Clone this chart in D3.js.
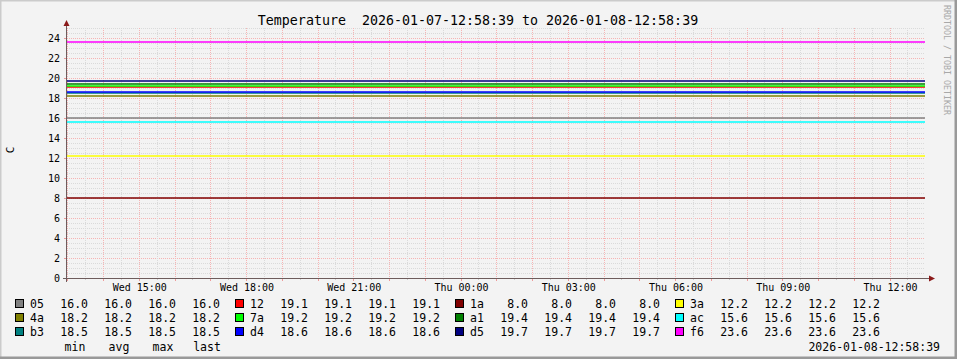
<!DOCTYPE html>
<html>
<head>
<meta charset="utf-8">
<script src="https://cdn.jsdelivr.net/npm/d3@7"></script>
<style>
  body { margin: 0; background: #f3f3f3; }
  svg { display: block; }
  text { font-family: "DejaVu Sans Mono", monospace; fill: #000; white-space: pre; }
</style>
</head>
<body>
<script>
const WIDTH = 957, HEIGHT = 359;

// chart data
const title = 'Temperature  2026-01-07-12:58:39 to 2026-01-08-12:58:39';
const timeStart = '2026-01-07T12:58:39Z';
const timeEnd = '2026-01-08T12:58:39Z';
const sensors = ['05', '12', '1a', '3a', '4a', '7a', 'a1', 'ac', 'b3', 'd4', 'd5', 'f6'];
const sensorColors = ['#808080', '#ff0000', '#800000', '#ffff00', '#808000', '#00ff00',
                      '#008000', '#00ffff', '#008080', '#0000ff', '#000080', '#ff00ff'];
const minValues  = [16.0, 19.1, 8.0, 12.2, 18.2, 19.2, 19.4, 15.6, 18.5, 18.6, 19.7, 23.6];
const avgValues  = [16.0, 19.1, 8.0, 12.2, 18.2, 19.2, 19.4, 15.6, 18.5, 18.6, 19.7, 23.6];
const maxValues  = [16.0, 19.1, 8.0, 12.2, 18.2, 19.2, 19.4, 15.6, 18.5, 18.6, 19.7, 23.6];
const lastValues = [16.0, 19.1, 8.0, 12.2, 18.2, 19.2, 19.4, 15.6, 18.5, 18.6, 19.7, 23.6];
const statLabels = ['min', 'avg', 'max', 'last'];
const yTicks = [0, 2, 4, 6, 8, 10, 12, 14, 16, 18, 20, 22, 24];
const xTickLabels = ['Wed 15:00', 'Wed 18:00', 'Wed 21:00', 'Thu 00:00',
                     'Thu 03:00', 'Thu 06:00', 'Thu 09:00', 'Thu 12:00'];
const yLabel = 'C';
const stamp = '2026-01-08-12:58:39';
const watermark = 'RRDTOOL / TOBI OETIKER';

const plotLeft = 67, plotRight = 925, plotTop = 28, plotBottom = 278;

const svg = d3.select('body')
              .append('svg')
                .attr('width', WIDTH)
                .attr('height', HEIGHT);

svg.append('rect').attr('width', WIDTH).attr('height', HEIGHT).attr('fill', '#f3f3f3');
// shaded frame
svg.append('path').attr('d', `M0,${HEIGHT} V0 H${WIDTH}`).attr('fill', 'none')
   .attr('stroke', '#cbcbcb').attr('stroke-width', 3);
svg.append('path').attr('d', `M0,${HEIGHT - 1} H${WIDTH - 1} V0`).attr('fill', 'none')
   .attr('stroke', '#999999').attr('stroke-width', 3);

const x = d3.scaleUtc()
            .domain([new Date(timeStart), new Date(timeEnd)])
            .range([plotLeft, plotRight]);
const y = d3.scaleLinear()
            .domain([0, 25])
            .range([plotBottom, plotTop]);

const grid = svg.append('g').attr('shape-rendering', 'crispEdges');
const MINOR = '#dadada', MAJOR = '#f6b4b4';

// horizontal grid: minor every 0.5, major every 2
d3.range(0.5, 25.01, 0.5).forEach(v => {
    const major = v % 2 === 0;
    grid.append('line')
        .attr('x1', plotLeft).attr('x2', plotRight)
        .attr('y1', y(v)).attr('y2', y(v))
        .attr('stroke', major ? MAJOR : MINOR)
        .attr('stroke-dasharray', '1,1');
});

// vertical grid: minor every 30 min, major every hour
const halfHours = d3.utcMinute.every(30).range(x.domain()[0], x.domain()[1]);
halfHours.forEach(t => {
    const major = t.getUTCMinutes() === 0;
    grid.append('line')
        .attr('x1', x(t)).attr('x2', x(t))
        .attr('y1', plotTop).attr('y2', plotBottom)
        .attr('stroke', major ? MAJOR : MINOR)
        .attr('stroke-dasharray', '1,1');
    grid.append('line')
        .attr('x1', x(t)).attr('x2', x(t))
        .attr('y1', plotBottom).attr('y2', plotBottom + (major ? 3 : 2))
        .attr('stroke', major ? '#ee9a9a' : '#cccccc');
});

// series lines
const line = d3.line().x(d => x(d[0])).y(d => y(d[1]));
svg.append('g')
   .selectAll('path')
   .data(sensors)
   .enter()
     .append('path')
       .attr('d', (d, i) => line([[x.domain()[0], lastValues[i]], [x.domain()[1], lastValues[i]]]))
       .attr('stroke', (d, i) => sensorColors[i])
       .attr('stroke-width', 1.6)
       .attr('fill', 'none');

// axes
const yAxis = svg.append('g')
   .attr('transform', `translate(${plotLeft},0)`)
   .call(d3.axisLeft(y).tickValues(yTicks).tickFormat(d3.format('d')).tickSize(3).tickPadding(4));
yAxis.select('.domain').remove();
yAxis.selectAll('line').attr('stroke', '#ee9a9a');
yAxis.selectAll('text').attr('font-size', 10).attr('font-family', 'DejaVu Sans Mono');

const xTimes = xTickLabels.map((d, i) => d3.utcHour.offset(d3.utcHour.ceil(x.domain()[0]), 2 + 3 * i));
const xAxis = svg.append('g')
   .attr('transform', `translate(0,${plotBottom})`)
   .call(d3.axisBottom(x).tickValues(xTimes).tickFormat((d, i) => xTickLabels[i]).tickSize(0).tickPadding(6));
xAxis.select('.domain').remove();
xAxis.selectAll('text').attr('font-size', 10).attr('font-family', 'DejaVu Sans Mono');

const axisColor = '#6e5c5c';
svg.append('line').attr('x1', plotLeft - 4).attr('x2', plotRight + 5).attr('y1', plotBottom + 0.5).attr('y2', plotBottom + 0.5)
   .attr('stroke', axisColor);
svg.append('line').attr('x1', plotLeft - 0.5).attr('x2', plotLeft - 0.5).attr('y1', plotTop - 5).attr('y2', plotBottom + 4)
   .attr('stroke', axisColor);
svg.append('path').attr('d', `M${plotLeft - 3.5},${plotTop - 2} L${plotLeft - 0.5},${plotTop - 8} L${plotLeft + 2.5},${plotTop - 2} Z`)
   .attr('fill', '#8b1a1a');
svg.append('path').attr('d', `M${plotRight + 4},${plotBottom - 2.5} L${plotRight + 10},${plotBottom + 0.5} L${plotRight + 4},${plotBottom + 3.5} Z`)
   .attr('fill', '#8b1a1a');

// title and side labels
svg.append('text').attr('x', 478).attr('y', 25).attr('text-anchor', 'middle')
   .attr('xml:space', 'preserve').attr('font-size', 13.3).text(title);
svg.append('text').attr('transform', 'translate(14,150) rotate(-90)').attr('text-anchor', 'middle')
   .attr('font-size', 11).text(yLabel);
svg.append('text').attr('transform', 'translate(944,5) rotate(90)')
   .attr('font-size', 8.3).style('fill', '#a8a8a8').text(watermark);

// legend
const LEG_X = 15, LEG_STEP = 220, ROW_Y = 308, ROW_H = 14;
const colEnds = [73, 117, 161, 205];
const statArrays = [minValues, avgValues, maxValues, lastValues];
const legend = svg.append('g');
const items = legend.selectAll('g')
   .data(sensors)
   .enter()
     .append('g')
       .attr('transform', (d, i) => `translate(${LEG_X + LEG_STEP * (i % 4)},${ROW_Y + ROW_H * Math.floor(i / 4)})`);
items.append('rect')
     .attr('x', 0.5).attr('y', -8.5).attr('width', 8).attr('height', 8)
     .attr('fill', (d, i) => sensorColors[i]).attr('stroke', '#000');
items.append('text').attr('x', 15).attr('font-size', 11.5).text(d => d);
statArrays.forEach((arr, k) => {
    items.append('text')
         .attr('x', colEnds[k]).attr('text-anchor', 'end').attr('font-size', 11.5)
         .text((d, i) => d3.format('.1f')(arr[i]));
});
legend.selectAll('.stat')
   .data(statLabels)
   .enter()
     .append('text')
       .attr('class', 'stat')
       .attr('x', (d, k) => LEG_X + colEnds[k] - 13)
       .attr('y', ROW_Y + ROW_H * 3 + 1)
       .attr('text-anchor', 'middle').attr('font-size', 11.5)
       .text(d => d);
svg.append('text').attr('x', 940).attr('y', ROW_Y + ROW_H * 3 + 1).attr('text-anchor', 'end')
   .attr('font-size', 11.5).text(stamp);
</script>
</body>
</html>
